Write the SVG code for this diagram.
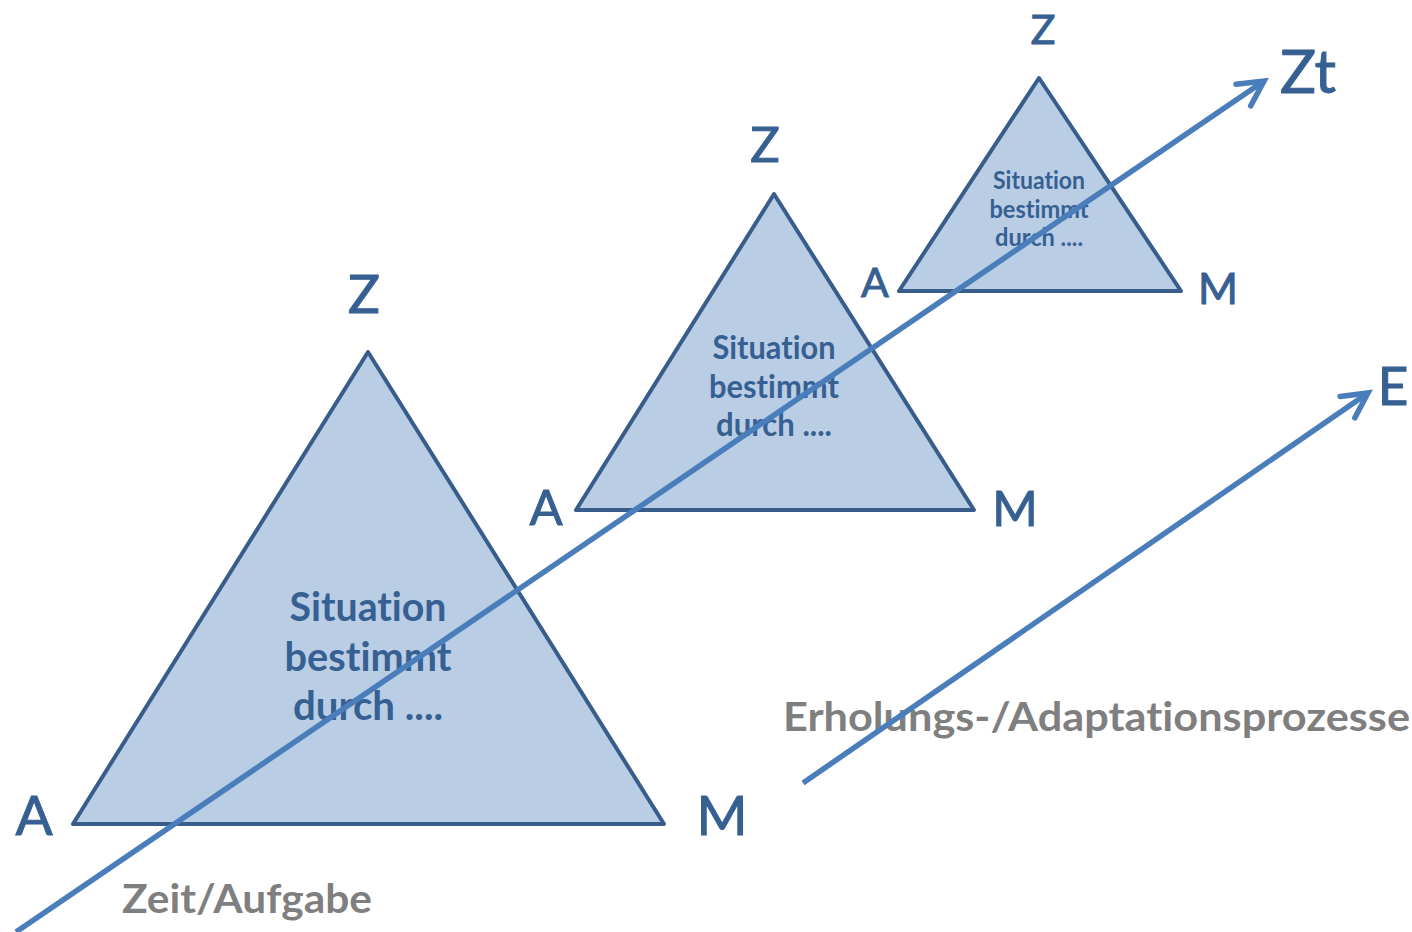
<svg xmlns="http://www.w3.org/2000/svg" width="1412" height="932" viewBox="0 0 1412 932">
  <style>
    text { font-variant-ligatures: none; font-feature-settings: "liga" 0, "clig" 0; }
    .tri { fill: #b9cde5; stroke: #385d8a; stroke-width: 4; stroke-linejoin: round; }
    .lbl { font-family: Lato, "Open Sans", sans-serif; fill: #376092; stroke: #376092; stroke-width: 1; text-anchor: middle; }
    .sit { font-family: Lato, "Open Sans", sans-serif; font-weight: bold; fill: #376092; text-anchor: middle; }
    .gray { font-family: Lato, "Open Sans", sans-serif; font-weight: bold; fill: #7f7f7f; }
    .arrow { stroke: #4a7ebb; stroke-width: 5.5; fill: none; marker-end: url(#chev); }
  </style>
  <defs>
    <marker id="chev" markerUnits="userSpaceOnUse" markerWidth="40" markerHeight="40" viewBox="-30 -20 40 40" refX="0" refY="0" orient="auto" overflow="visible">
      <path d="M -25,-13 L 0,0 L -25,13" fill="none" stroke="#4a7ebb" stroke-width="5.5" stroke-linecap="round" stroke-linejoin="miter"/>
    </marker>
  </defs>
  <rect width="1412" height="932" fill="#ffffff"/>

  <g id="triangle-large">
    <polygon class="tri" points="368,352 73,824 664,824"/>
    <text class="sit" x="368" y="621" font-size="41" textLength="157" lengthAdjust="spacingAndGlyphs">Situation</text>
    <text class="sit" x="368" y="671" font-size="41" textLength="167" lengthAdjust="spacingAndGlyphs">bestimmt</text>
    <text class="sit" x="368" y="720" font-size="41" textLength="150" lengthAdjust="spacingAndGlyphs">durch ....</text>
    <text class="lbl" x="364" y="313" font-size="53">Z</text>
    <text class="lbl" x="34" y="835" font-size="55">A</text>
    <text class="lbl" x="722" y="835" font-size="55">M</text>
  </g>

  <g id="triangle-medium">
    <polygon class="tri" points="774,194 576,510 974,510"/>
    <text class="sit" x="774" y="359" font-size="32" textLength="123" lengthAdjust="spacingAndGlyphs">Situation</text>
    <text class="sit" x="774" y="398" font-size="32" textLength="130" lengthAdjust="spacingAndGlyphs">bestimmt</text>
    <text class="sit" x="774" y="436" font-size="32" textLength="116" lengthAdjust="spacingAndGlyphs">durch ....</text>
    <text class="lbl" x="765" y="162" font-size="49">Z</text>
    <text class="lbl" x="546" y="525" font-size="49">A</text>
    <text class="lbl" x="1015" y="526" font-size="49">M</text>
  </g>

  <g id="triangle-small">
    <polygon class="tri" points="1039,78 899,291 1181,291"/>
    <text class="sit" x="1039" y="189" font-size="24" textLength="92" lengthAdjust="spacingAndGlyphs">Situation</text>
    <text class="sit" x="1039" y="218" font-size="24" textLength="99" lengthAdjust="spacingAndGlyphs">bestimmt</text>
    <text class="sit" x="1039" y="246" font-size="24" textLength="88" lengthAdjust="spacingAndGlyphs">durch ....</text>
    <text class="lbl" x="1043" y="44" font-size="41">Z</text>
    <text class="lbl" x="875" y="297" font-size="41">A</text>
    <text class="lbl" x="1218" y="304" font-size="43">M</text>
  </g>

  <g id="labels">
    <text class="lbl" x="1308" y="93" font-size="60">Zt</text>
    <text class="lbl" x="1393" y="405" font-size="53">E</text>
    <text class="gray" x="122" y="913" font-size="40" textLength="250" lengthAdjust="spacingAndGlyphs">Zeit/Aufgabe</text>
    <text class="gray" x="783" y="731" font-size="40" textLength="627" lengthAdjust="spacingAndGlyphs">Erholungs-/Adaptationsprozesse</text>
  </g>

  <g id="connectors">
    <line class="arrow" x1="16" y1="932" x2="1264" y2="81"/>
    <line class="arrow" x1="803" y1="783" x2="1368" y2="393"/>
  </g>
</svg>
